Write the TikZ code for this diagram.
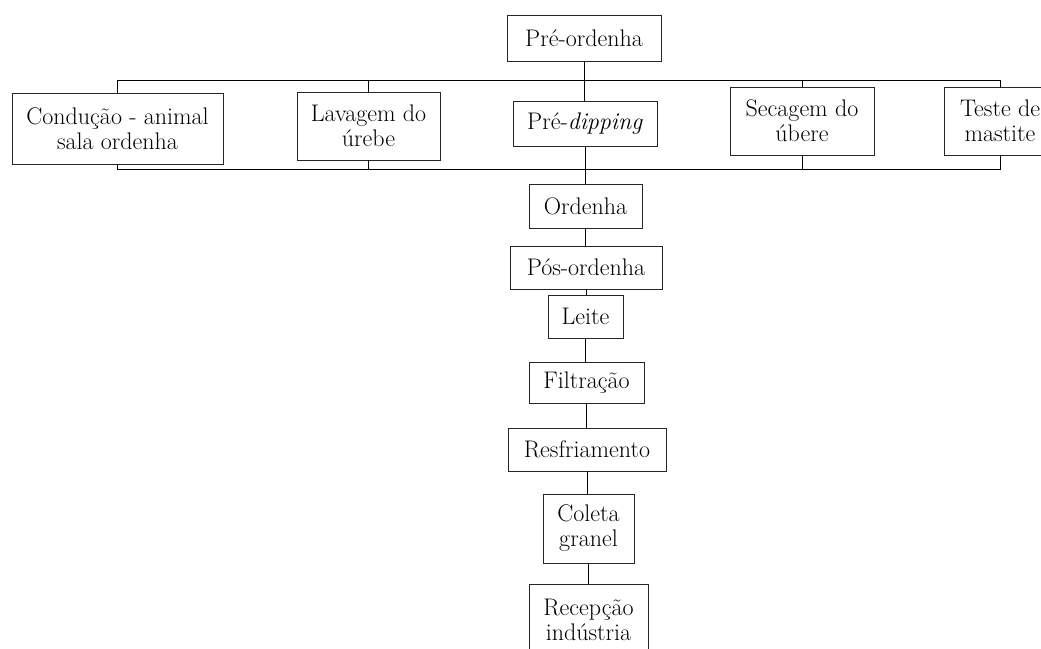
\documentclass[tikz,border=0pt]{standalone}
\usepackage{fontspec}
\begin{document}
\begin{tikzpicture}[x=1pt,y=-1pt,
  box/.style={draw=black!85, line width=0.9pt, inner sep=0pt, align=center,
    font=\fontsize{24}{25}\selectfont},
  conn/.style={draw=black, line width=1pt}]
\useasboundingbox (0,0) rectangle (1041,648);
\clip (0,0) rectangle (1041,648);
\node[box, minimum width=154pt, minimum height=46pt] (pre) at (584,38) {Pré-ordenha};
\node[box, minimum width=211pt, minimum height=71pt] (cond) at (117.5,128.5) {Condução - animal\\sala ordenha};
\node[box, minimum width=143pt, minimum height=68pt] (lav) at (368.5,126) {Lavagem do\\úrebe};
\node[box, minimum width=144pt, minimum height=45pt] (dip) at (585,123.5) {Pré-\textit{dipping}};
\node[box, minimum width=144pt, minimum height=68pt] (sec) at (802,121) {Secagem do\\úbere};
\node[box, minimum width=112pt, minimum height=68pt] (tes) at (1000,121) {Teste de\\mastite};
\node[box, minimum width=113pt, minimum height=44pt] (ord) at (585.5,206) {Ordenha};
\node[box, minimum width=152pt, minimum height=43pt] (pos) at (586,267.5) {Pós-ordenha};
\node[box, minimum width=75pt, minimum height=43pt] (lei) at (585.5,316.5) {Leite};
\node[box, minimum width=115pt, minimum height=41pt] (fil) at (586.5,382.5) {Filtração};
\node[box, minimum width=158pt, minimum height=43pt] (res) at (587,449.5) {Resfriamento};
\node[box, minimum width=91pt, minimum height=69pt] (col) at (588.5,528.5) {Coleta\\granel};
\node[box, minimum width=119pt, minimum height=72pt] (rec) at (588.5,620) {Recepção\\indústria};
\coordinate (top) at (0,80);
\coordinate (bot) at (0,169);
% top bracket
\draw[conn] (cond.north) |- (top -| tes.north) -- (tes.north);
\draw[conn] (lav.north) -- (lav.north |- top);
\draw[conn] (sec.north) -- (sec.north |- top);
% bottom bracket
\draw[conn] (cond.south) |- (bot -| tes.south) -- (tes.south);
\draw[conn] (lav.south) -- (lav.south |- bot);
\draw[conn] (sec.south) -- (sec.south |- bot);
% main chain
\draw[conn] (pre.south) -- (pre.south |- dip.north);
\draw[conn] (dip.south) -- (dip.south |- ord.north);
\draw[conn] (ord.south) -- (ord.south |- pos.north);
\draw[conn] (pos.south) -- (pos.south |- lei.north);
\draw[conn] (lei.south) -- (lei.south |- fil.north);
\draw[conn] (fil.south) -- (fil.south |- res.north);
\draw[conn] (res.south) -- (res.south |- col.north);
\draw[conn] (col.south) -- (col.south |- rec.north);
\end{tikzpicture}
\end{document}
